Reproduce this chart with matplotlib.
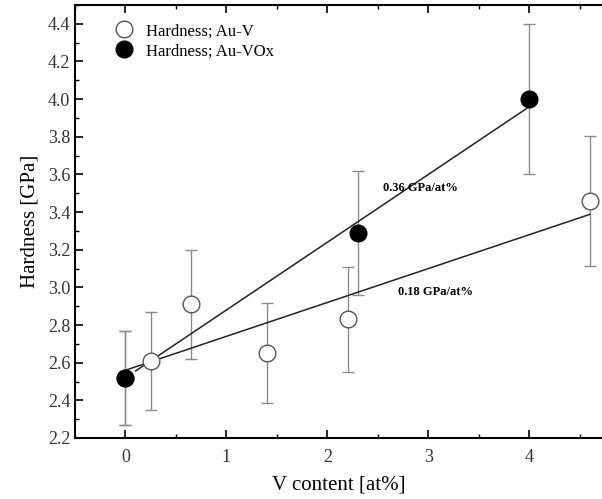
import numpy as np
import matplotlib
matplotlib.use("Agg")
import matplotlib.pyplot as plt
from matplotlib.ticker import MultipleLocator, FormatStrFormatter

# Au-V (open circles)
v_x = [0.0, 0.25, 0.65, 1.4, 2.2, 4.6]
v_h = [2.52, 2.61, 2.91, 2.65, 2.83, 3.46]
v_err = [0.25, 0.26, 0.29, 0.265, 0.28, 0.345]

# Au-VOx (filled circles)
vox_x = [0.0, 2.3, 4.0]
vox_h = [2.52, 3.29, 4.0]
vox_err = [0.25, 0.33, 0.40]

# linear fits: (x start, x end, intercept, slope)
fit_vox = (0.1, 4.0, 2.52, 0.36)
fit_v = (0.0, 4.6, 2.56, 0.18)
label_vox = "0.36 GPa/at%"
label_v = "0.18 GPa/at%"

plt.rcParams["font.family"] = ["Liberation Serif", "DejaVu Serif"]

fig = plt.figure(figsize=(6.02, 4.99), dpi=100)
ax = fig.add_axes([75 / 602, 61 / 499, 1 - 75 / 602, (438 - 5) / 499])

ebar = dict(fmt="none", ecolor="#8c8c8c", elinewidth=1.0, capsize=4, capthick=1.0, zorder=1)
ax.errorbar(v_x, v_h, yerr=v_err, **ebar)
ax.errorbar(vox_x, vox_h, yerr=vox_err, **ebar)
ax.plot(v_x, v_h, "o", ms=12, mfc="white", mec="#555555", mew=1.0,
        label="Hardness; Au-V", zorder=3)
ax.plot(vox_x, vox_h, "o", ms=12, mfc="black", mec="black",
        label="Hardness; Au-VOx", zorder=4)

for x0, x1, b, m in (fit_vox, fit_v):
    xs = np.array([x0, x1])
    ax.plot(xs, b + m * xs, color="#222222", lw=1.1, zorder=2)

ax.text(2.92, 3.53, label_vox, fontsize=9, fontweight="bold", ha="center", va="center")
ax.text(3.07, 2.975, label_v, fontsize=9, fontweight="bold", ha="center", va="center")

ax.set_xlim(-0.5, 4.72)
ax.set_ylim(2.2, 4.5)
ax.xaxis.set_major_locator(MultipleLocator(1))
ax.xaxis.set_minor_locator(MultipleLocator(0.5))
ax.yaxis.set_major_locator(MultipleLocator(0.2))
ax.yaxis.set_minor_locator(MultipleLocator(0.1))
ax.yaxis.set_major_formatter(FormatStrFormatter("%.1f"))
ax.tick_params(which="both", direction="in", top=True, right=False,
               labelsize=13, labelcolor="#333333")
ax.tick_params(axis="x", pad=8)
ax.tick_params(which="major", length=6, width=1.2)
ax.tick_params(which="minor", length=3, width=1.0)
ax.spines["right"].set_visible(False)
for s in ("left", "top", "bottom"):
    ax.spines[s].set_linewidth(1.5)

ax.set_xlabel("V content [at%]", fontsize=15, labelpad=7)
ax.set_ylabel("Hardness [GPa]", fontsize=15, labelpad=6)

ax.legend(loc="upper left", bbox_to_anchor=(0.04, 0.985), frameon=False,
          fontsize=12, handletextpad=0.3, borderaxespad=0.3, labelspacing=0.25)

fig.savefig("out.png", dpi=100)
